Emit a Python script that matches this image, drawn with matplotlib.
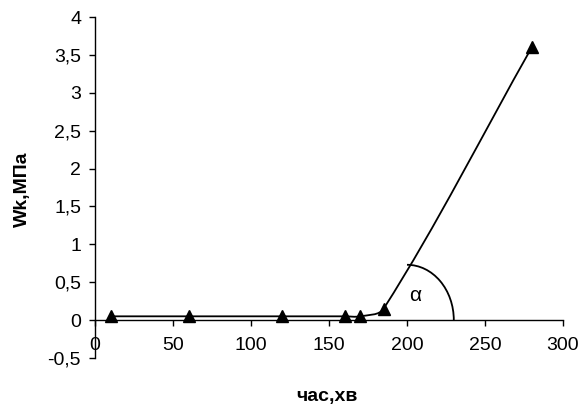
import numpy as np
import matplotlib
matplotlib.use("Agg")
import matplotlib.pyplot as plt
from matplotlib.patches import Arc
from matplotlib.path import Path
from matplotlib.patches import PathPatch

plt.rcParams['font.family'] = ['Liberation Sans', 'DejaVu Sans']

# data
time_min = [10, 60, 120, 160, 170, 185, 280]
wk_mpa = [0.05, 0.05, 0.05, 0.05, 0.05, 0.15, 3.6]
x_ticks = [0, 50, 100, 150, 200, 250, 300]
y_ticks = [-0.5, 0, 0.5, 1, 1.5, 2, 2.5, 3, 3.5, 4]
y_tick_labels = ["-0,5", "0", "0,5", "1", "1,5", "2", "2,5", "3", "3,5", "4"]
angle_center = (200, 0)
angle_width = 60
angle_height = 1.46

W, H = 579, 407
fig = plt.figure(figsize=(W / 100, H / 100), dpi=100)
ax = fig.add_axes([95 / W, 1 - 358 / H, (563 - 95) / W, (358 - 17) / H])
ax.set_xlim(0, 300)
ax.set_ylim(-0.5, 4)

for s in ['top', 'right']:
    ax.spines[s].set_visible(False)
ax.spines['bottom'].set_position(('data', 0))
ax.spines['bottom'].set_linewidth(1.0)
ax.spines['left'].set_linewidth(1.0)

ax.set_xticks(x_ticks)
ax.set_xticklabels([str(v) for v in x_ticks])
ax.set_yticks(y_ticks)
ax.set_yticklabels(y_tick_labels)
ax.tick_params(axis='x', direction='out', length=4, width=1, labelsize=14, pad=8)
ax.tick_params(axis='y', direction='out', length=4, width=1, labelsize=14, pad=6)

# smoothed line (Excel-like) computed in display coordinates
pts = ax.transData.transform(np.column_stack([time_min, wk_mpa]))
n = len(pts)
dirs = []
for i in range(n):
    if i == 0:
        d = pts[1] - pts[0]
    elif i == n - 1:
        d = pts[-1] - pts[-2]
    else:
        d = pts[i + 1] - pts[i - 1]
    dirs.append(d / np.linalg.norm(d))
verts = [pts[0]]
codes = [Path.MOVETO]
for i in range(n - 1):
    L = np.linalg.norm(pts[i + 1] - pts[i])
    c1 = pts[i] + dirs[i] * L / 3
    c2 = pts[i + 1] - dirs[i + 1] * L / 3
    verts += [c1, c2, pts[i + 1]]
    codes += [Path.CURVE4] * 3
verts_data = ax.transData.inverted().transform(np.array(verts))
path = Path(verts_data, codes)
ax.add_patch(PathPatch(path, facecolor='none', edgecolor='black', lw=1.3, zorder=3))

ax.plot(time_min, wk_mpa, linestyle='none', marker='^', color='black',
        markersize=9, zorder=4, clip_on=False)

# angle arc
arc = Arc(angle_center, angle_width, angle_height, theta1=0, theta2=90,
          color='black', lw=1.3, zorder=3)
ax.add_patch(arc)
ax.text(205, 0.33, "α", fontsize=15, ha='center', va='center')

fig.text(327 / W, 1 - 396 / H, "час,хв", fontsize=14, fontweight='bold',
         ha='center', va='center')
fig.text(22 / W, 1 - 189 / H, "Wk,МПа", fontsize=14, fontweight='bold',
         ha='center', va='center', rotation=90)

fig.savefig("out.png", dpi=100)
